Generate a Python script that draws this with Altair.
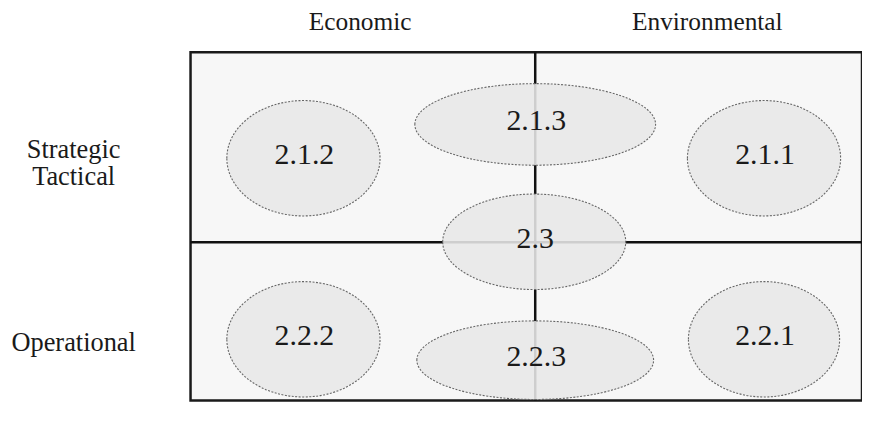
import altair as alt
import pandas as pd

# Ellipse labels and geometry (plot units: 675 x 350 frame, y downward)
labels = ["2.1.2", "2.1.3", "2.1.1", "2.3", "2.2.2", "2.2.3", "2.2.1"]
cx = [113.5, 346.5, 576.5, 345.5, 113.5, 346.5, 576.5]
cy = [106.5, 72.5, 106.5, 190.5, 288.5, 309.5, 288.5]
rx = [77, 121, 77, 92, 77, 119, 76]
ry = [58, 41, 58, 48, 58, 39.5, 58]

# Column headers and row labels
col_labels = ["Economic", "Environmental"]
col_x = [170.5, 519.5]
col_y = [-22.5, -22.5]
row_labels = ["Strategic\nTactical", "Operational"]
row_x = [-117.5, -117.5]
row_y = [106, 300.5]

# Quadrant dividers
div_x = [346.5]
div_y = [191]

ell_df = pd.DataFrame(dict(label=labels, cx=cx, cy=cy, rx=rx, ry=ry))
col_df = pd.DataFrame(dict(text=col_labels, x=col_x, y=col_y))
row_df = pd.DataFrame(dict(text=row_labels, x=row_x, y=row_y))
vdf = pd.DataFrame(dict(x=div_x))
hdf = pd.DataFrame(dict(y=div_y))

xs = alt.Scale(domain=[0, 675], nice=False, zero=False)
ys = alt.Scale(domain=[0, 350], nice=False, zero=False, reverse=True)

FONT = "Liberation Serif"
TXT = "#1a1a1a"
K = 0.5523

path_expr = (
    f"'M -1 0 C -1 ' + (-{K}*datum.r) + ' -{K} ' + (-datum.r) + ' 0 ' + (-datum.r)"
    f" + ' C {K} ' + (-datum.r) + ' 1 ' + (-{K}*datum.r) + ' 1 0'"
    f" + ' C 1 ' + ({K}*datum.r) + ' {K} ' + datum.r + ' 0 ' + datum.r"
    f" + ' C -{K} ' + datum.r + ' -1 ' + ({K}*datum.r) + ' -1 0 Z'"
)

vrule = alt.Chart(vdf).mark_rule(color="#111", strokeWidth=2.5).encode(
    x=alt.X("x:Q", scale=xs, axis=None)
)
hrule = alt.Chart(hdf).mark_rule(color="#111", strokeWidth=2.5).encode(
    y=alt.Y("y:Q", scale=ys, axis=None)
)

ellipses = (
    alt.Chart(ell_df)
    .transform_calculate(r="datum.ry / datum.rx", s="pow(2 * datum.rx, 2)")
    .transform_calculate(path=path_expr)
    .mark_point(
        filled=True,
        fill="#e8e8e8",
        fillOpacity=0.88,
        opacity=1,
        stroke="#666666",
        strokeWidth=1.1,
        strokeDash=[2, 1.5],
    )
    .encode(
        x=alt.X("cx:Q", scale=xs, axis=None),
        y=alt.Y("cy:Q", scale=ys, axis=None),
        shape=alt.Shape("path:N", scale=None, legend=None),
        size=alt.Size("s:Q", scale=None, legend=None),
    )
)

ell_text = alt.Chart(ell_df).mark_text(
    font=FONT, fontSize=30, color=TXT, baseline="middle", align="center", dy=-3, dx=1
).encode(
    x=alt.X("cx:Q", scale=xs, axis=None),
    y=alt.Y("cy:Q", scale=ys, axis=None),
    text="label:N",
)

col_text = alt.Chart(col_df).mark_text(
    font=FONT, fontSize=25.5, color=TXT, baseline="alphabetic", align="center"
).encode(
    x=alt.X("x:Q", scale=xs, axis=None),
    y=alt.Y("y:Q", scale=ys, axis=None),
    text="text:N",
)

row_text = alt.Chart(row_df).mark_text(
    font=FONT, fontSize=26.5, color=TXT, baseline="alphabetic", align="center",
    lineBreak="\n", lineHeight=27,
).encode(
    x=alt.X("x:Q", scale=xs, axis=None),
    y=alt.Y("y:Q", scale=ys, axis=None),
    text="text:N",
)

chart = (
    alt.layer(vrule, hrule, ellipses, ell_text, col_text, row_text)
    .properties(
        width=675,
        height=350,
        autosize=alt.AutoSizeParams(type="none"),
        padding={"left": 183.5, "top": 43.5, "right": 0, "bottom": 0},
        background="white",
    )
    .configure_view(fill="#f7f7f7", stroke="#1a1a1a", strokeWidth=2.5)
)

chart.save("out.html", embed_options={"renderer": "svg", "actions": False})
